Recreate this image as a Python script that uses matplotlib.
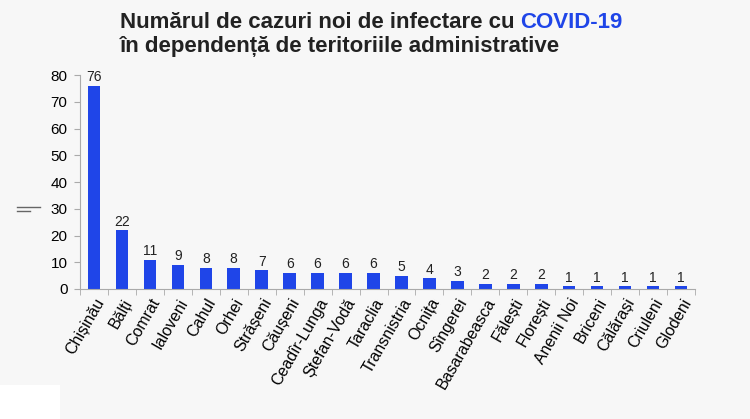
import matplotlib.pyplot as plt
import matplotlib.patches as mpatches

plt.rcParams['font.family'] = ['Liberation Sans', 'DejaVu Sans']

regions = ["Chișinău", "Bălți", "Comrat", "Ialoveni", "Cahul", "Orhei", "Strășeni",
           "Căușeni", "Ceadîr-Lunga", "Ștefan-Vodă", "Taraclia", "Transnistria",
           "Ocnița", "Sîngerei", "Basarabeasca", "Fălești", "Florești", "Anenii Noi",
           "Briceni", "Călărași", "Criuleni", "Glodeni"]
cases = [76, 22, 11, 9, 8, 8, 7, 6, 6, 6, 6, 5, 4, 3, 2, 2, 2, 1, 1, 1, 1, 1]

bg = '#f7f7f7'
bar_color = '#1f45e8'

fig = plt.figure(figsize=(7.5, 4.19), dpi=100, facecolor=bg)
ax = fig.add_axes([80/750, 1 - 289/419, 615/750, 214/419], facecolor=bg)

x = range(len(regions))
ax.bar(x, cases, width=0.45, color=bar_color)
for i, v in enumerate(cases):
    ax.text(i, v + 0.6, str(v), ha='center', va='bottom', fontsize=10, color='#222222')

ax.set_xlim(-0.5, len(regions) - 0.5)
ax.set_ylim(0, 80)
ax.set_yticks(range(0, 81, 10))
ax.tick_params(axis='y', labelsize=11, length=4, color='#aaaaaa', pad=5)
ax.set_xticks(x)
ax.set_xticklabels(regions, rotation=60, ha='right', rotation_mode='anchor', fontsize=11.5)
ax.tick_params(axis='x', length=0, pad=5)
ax.set_xticks([i + 0.5 for i in range(-1, len(regions))], minor=True)
ax.tick_params(axis='x', which='minor', length=4, color='#aaaaaa')
for s in ['top', 'right']:
    ax.spines[s].set_visible(False)
for s in ['left', 'bottom']:
    ax.spines[s].set_color('#aaaaaa')

t1 = fig.text(120/750, 1 - 22/419, "Numărul de cazuri noi de infectare cu", fontsize=16,
              fontweight='bold', ha='left', va='center', color='#222222')
ax.annotate("COVID-19", xy=(1, 0), xycoords=t1, xytext=(4, 0), textcoords='offset points',
            fontsize=16, fontweight='bold', color=bar_color, ha='left', va='bottom',
            annotation_clip=False)
fig.text(120/750, 1 - 46/419, "în dependență de teritoriile administrative", fontsize=16,
         fontweight='bold', ha='left', va='center', color='#222222')

fig.lines.append(plt.Line2D([17/750, 40/750], [1 - 207/419, 1 - 207/419], color='#666666', lw=1, transform=fig.transFigure))
fig.lines.append(plt.Line2D([17/750, 30/750], [1 - 211/419, 1 - 211/419], color='#666666', lw=1, transform=fig.transFigure))
fig.patches.append(mpatches.Rectangle((0, 0), 60/750, 34/419, facecolor='white', edgecolor='none', transform=fig.transFigure))

fig.savefig('out.png', dpi=100, facecolor=bg)
